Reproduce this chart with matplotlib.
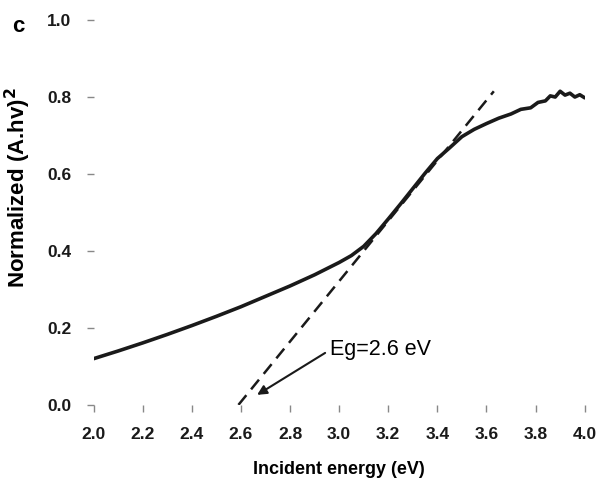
import numpy as np
import matplotlib
matplotlib.use('Agg')
import matplotlib.pyplot as plt

plt.rcParams['font.family'] = ['Liberation Sans', 'DejaVu Sans']

energy = [2.00, 2.10, 2.20, 2.30, 2.40, 2.50, 2.60, 2.70, 2.80, 2.90, 3.00, 3.05, 3.10,
          3.15, 3.20, 3.25, 3.30, 3.35, 3.40, 3.45, 3.50, 3.55, 3.60, 3.65, 3.70,
          3.74, 3.78, 3.81, 3.84, 3.86, 3.88, 3.90, 3.92, 3.94, 3.96, 3.98, 4.00]
norm = [0.120, 0.140, 0.161, 0.183, 0.206, 0.230, 0.255, 0.282, 0.309, 0.338, 0.370, 0.388, 0.412,
        0.445, 0.483, 0.522, 0.562, 0.602, 0.640, 0.668, 0.697, 0.716, 0.731, 0.745, 0.756,
        0.768, 0.772, 0.786, 0.790, 0.803, 0.800, 0.815, 0.805, 0.810, 0.800, 0.806, 0.798]

# linear fit (tangent) used for the band gap
fit_x = [2.59, 3.63]
fit_y = [0.0, 0.815]

xticks = [2.0, 2.2, 2.4, 2.6, 2.8, 3.0, 3.2, 3.4, 3.6, 3.8, 4.0]
yticks = [0.0, 0.2, 0.4, 0.6, 0.8, 1.0]

fig = plt.figure(figsize=(5.96, 4.78), dpi=100)
ax = fig.add_axes([0.157, 0.153, 0.824, 0.805])

ax.plot(energy, norm, color='#1a1a1a', lw=2.6, solid_capstyle='round')
ax.plot(fit_x, fit_y, color='#1a1a1a', lw=1.8, ls=(0, (5, 3)))

ax.text(2.963, 0.13, 'Eg=2.6 eV', fontsize=15.5, ha='left', va='baseline')
ax.annotate('', xy=(2.666, 0.026), xytext=(2.943, 0.135),
            arrowprops=dict(arrowstyle='-|>', color='#1a1a1a', lw=1.5,
                            mutation_scale=14, shrinkA=0, shrinkB=0))

ax.set_xlim(2.0, 4.0)
ax.set_ylim(0.0, 1.0)
for s in ax.spines.values():
    s.set_visible(False)
ax.set_xticks(xticks)
ax.set_yticks(yticks)
ax.set_xticklabels(['%.1f' % v for v in xticks], fontweight='bold')
ax.set_yticklabels(['%.1f' % v for v in yticks], fontweight='bold')
ax.tick_params(axis='both', direction='out', length=5, width=1, color='#888888',
               labelsize=12.5, labelcolor='#1a1a1a', pad=11)

ax.set_xlabel('Incident energy (eV)', fontsize=13, fontweight='bold')
ax.xaxis.set_label_coords(0.5, -0.145)
ax.set_ylabel('Normalized (A.hv)$^\\mathbf{2}$', fontsize=16, fontweight='bold')
ax.yaxis.set_label_coords(-0.123, 0.565)

fig.text(0.02, 0.945, 'c', fontsize=16, fontweight='bold', va='center')

fig.savefig('out.png', dpi=100)
